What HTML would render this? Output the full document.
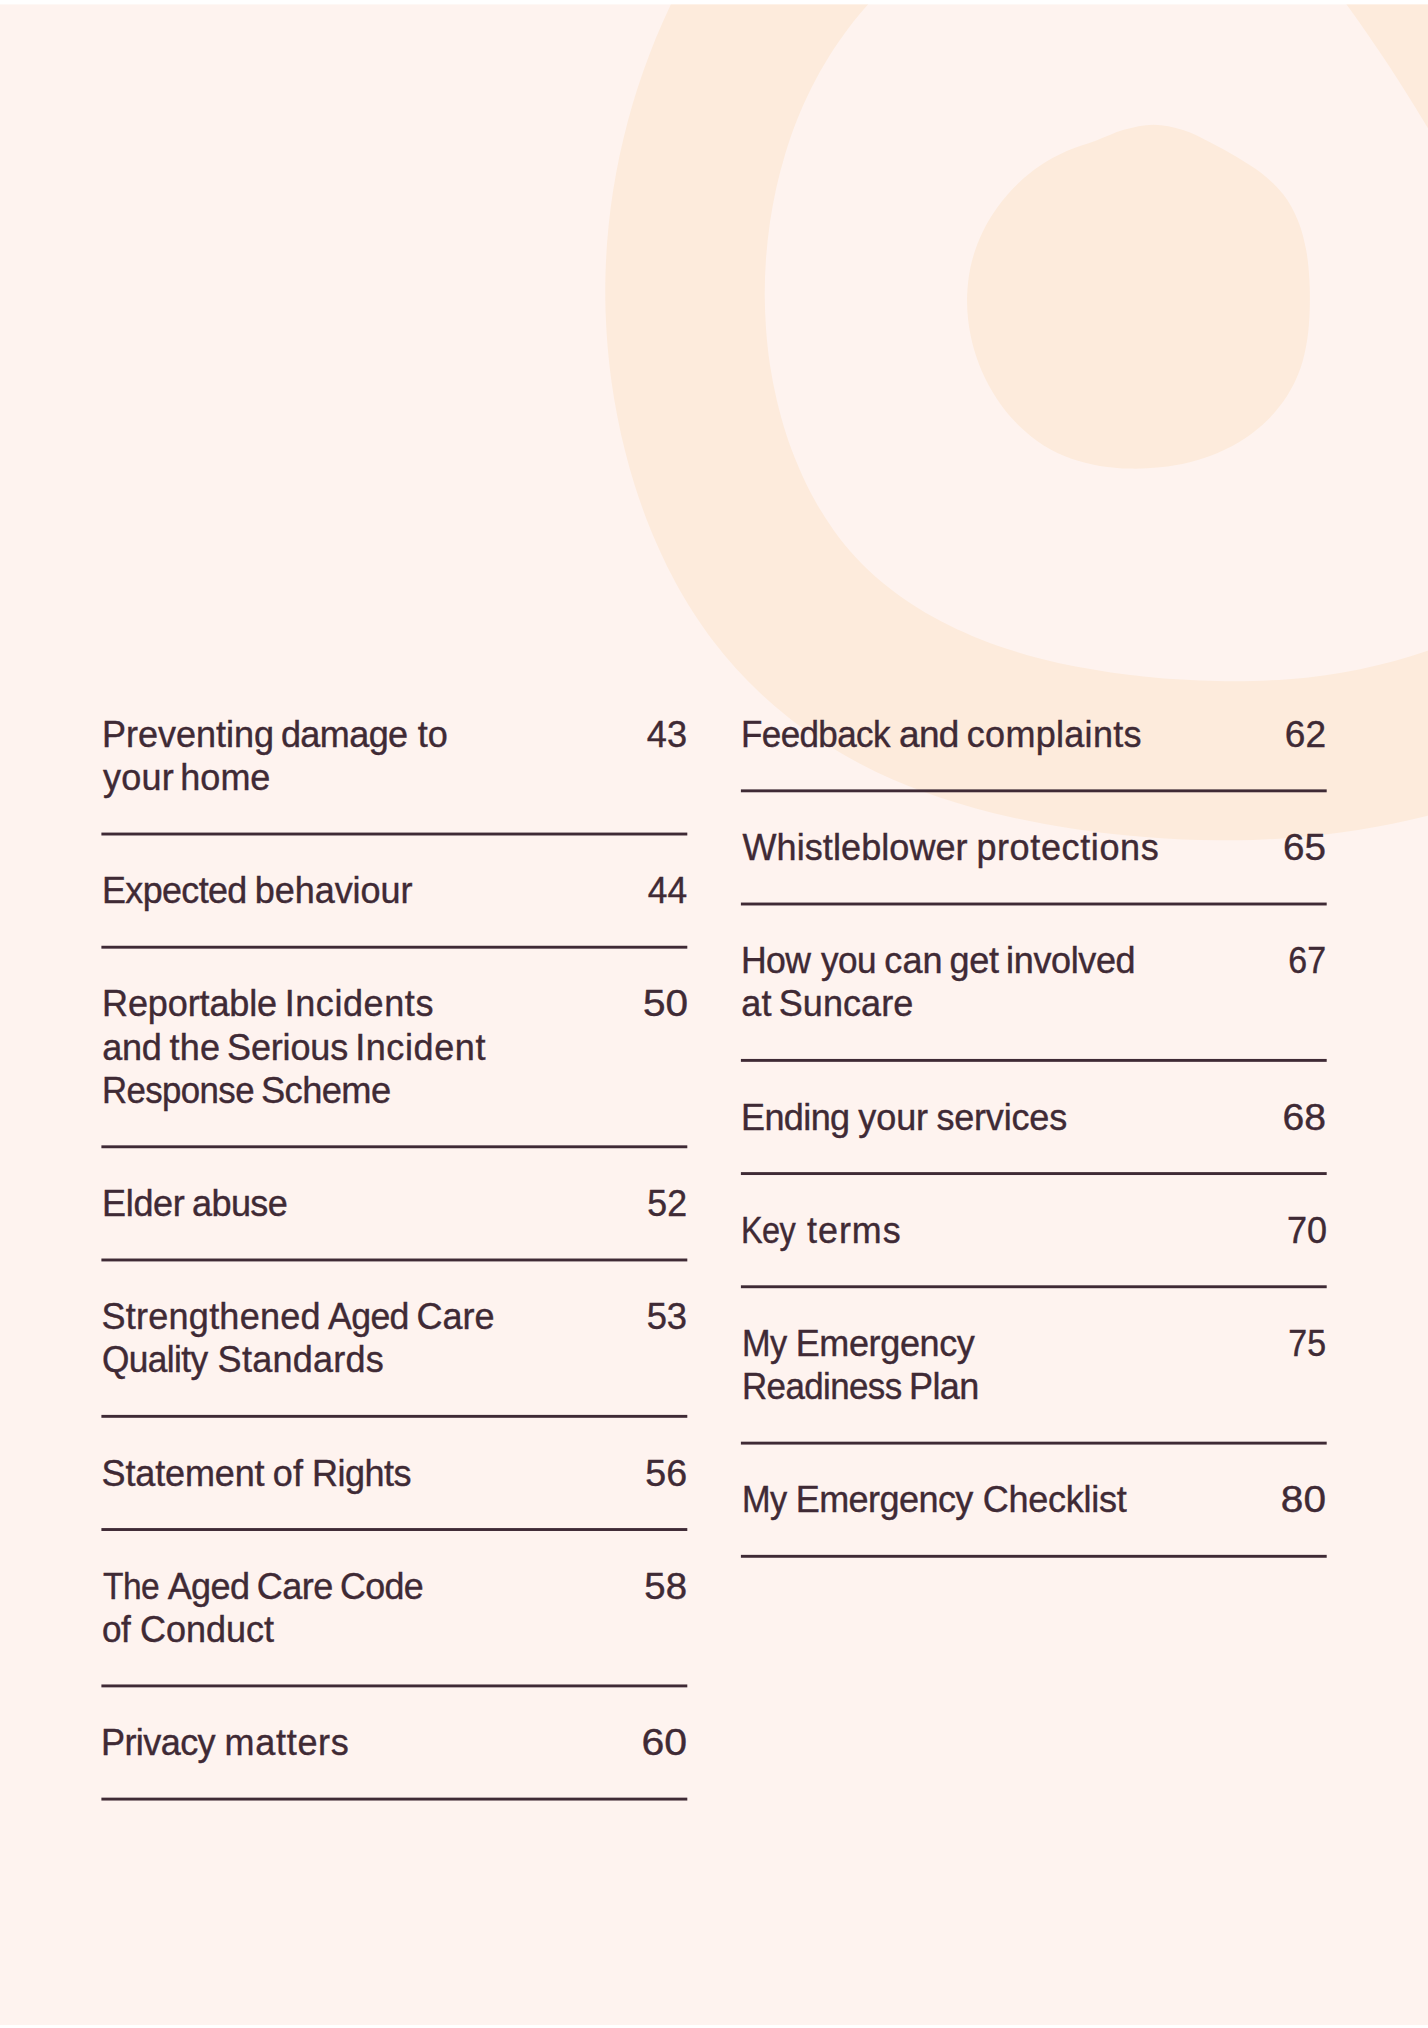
<!DOCTYPE html>
<html lang="en">
<head>
<meta charset="utf-8">
<title>Contents</title>
<style>
html,body{margin:0;padding:0;background:#fff;}
body{width:1428px;height:2028px;position:relative;overflow:hidden;font-family:"Liberation Sans",Arial,sans-serif;color:#3f2a35;}
.page{position:absolute;left:0;top:0;width:1428px;height:2028px;overflow:hidden;}
.page svg{position:absolute;left:0;top:0;width:1428px;height:2028px;display:block;}
.col{position:absolute;width:585px;top:712.83px;}
.col.l{left:101.5px;}
.col.r{left:740.8px;}
.row{position:relative;}
.t{font-size:36px;line-height:43.2px;white-space:nowrap;-webkit-text-stroke:0.4px #3f2a35;}
.ln{display:block;position:relative;height:43.2px;}
.w{position:absolute;top:0;white-space:pre;transform-origin:0 50%;}
.n{position:absolute;top:0;transform-origin:100% 50%;font-size:36px;line-height:43.2px;text-align:right;-webkit-text-stroke:0.4px #3f2a35;}
</style>
</head>
<body>
<div class="page">
<svg viewBox="0 0 1428 2028" width="1428" height="2028" aria-hidden="true">
<defs><clipPath id="pg"><rect x="0" y="4.4" width="1428" height="2020.6"/></clipPath></defs>
<rect x="0" y="4.4" width="1428" height="2020.6" fill="#fef3ef"/>
<g clip-path="url(#pg)" fill="#fdebdc">
<path d="M685.8 -25.2C683.1 -19.9 675.0 -4.4 670.0 6.2C665.0 16.8 660.3 27.5 655.8 38.3C651.4 49.2 647.2 60.1 643.3 71.2C639.4 82.2 635.8 93.3 632.5 104.6C629.2 115.8 626.2 127.1 623.5 138.5C620.7 149.9 618.3 161.3 616.2 172.8C614.1 184.3 612.2 195.9 610.7 207.5C609.2 219.1 608.0 230.8 607.1 242.5C606.3 254.1 605.7 265.8 605.4 277.5C605.2 289.2 605.2 301.0 605.6 312.6C606.0 324.3 606.7 336.0 607.7 347.7C608.7 359.4 610.0 371.0 611.6 382.6C613.2 394.2 615.2 405.7 617.5 417.2C619.7 428.7 622.3 440.1 625.2 451.5C628.0 462.8 631.2 474.1 634.7 485.3C638.3 496.4 642.1 507.5 646.2 518.4C650.4 529.4 654.9 540.2 659.8 550.8C664.6 561.5 669.8 572.0 675.4 582.3C681.0 592.6 686.9 602.7 693.3 612.5C699.6 622.3 706.3 632.0 713.4 641.3C720.5 650.6 728.0 659.6 735.8 668.3C743.7 677.0 751.9 685.3 760.4 693.3C769.0 701.3 777.8 709.0 787.0 716.3C796.1 723.6 805.6 730.5 815.3 737.1C824.9 743.7 834.9 749.8 845.1 755.6C855.2 761.4 865.7 766.8 876.2 771.9C886.8 776.9 897.5 781.6 908.4 785.9C919.2 790.3 930.3 794.3 941.4 798.0C952.5 801.7 963.7 805.1 975.0 808.2C986.2 811.3 997.6 814.1 1009.0 816.7C1020.4 819.3 1031.9 821.6 1043.4 823.7C1055.0 825.8 1066.5 827.7 1078.1 829.4C1089.7 831.1 1101.3 832.6 1112.9 833.9C1124.6 835.2 1136.2 836.3 1147.9 837.3C1159.5 838.2 1171.2 838.9 1182.9 839.4C1194.6 839.9 1206.3 840.2 1218.0 840.3C1229.7 840.4 1241.5 840.3 1253.2 839.9C1264.8 839.5 1276.5 838.9 1288.2 838.0C1299.9 837.2 1311.6 836.1 1323.2 834.8C1334.8 833.4 1346.4 831.8 1358.0 830.0C1369.5 828.1 1381.1 826.0 1392.5 823.7C1404.0 821.3 1415.4 818.7 1426.8 815.9C1438.1 813.0 1455.0 808.1 1460.6 806.5L1460.8 637.7C1455.3 639.9 1438.8 646.8 1427.6 650.7C1416.4 654.6 1405.1 658.1 1393.6 661.3C1382.2 664.4 1370.6 667.1 1359.0 669.4C1347.3 671.8 1335.6 673.7 1323.8 675.4C1312.1 677.0 1300.3 678.2 1288.4 679.2C1276.6 680.1 1264.7 680.7 1252.9 681.0C1241.0 681.4 1229.1 681.4 1217.2 681.1C1205.4 680.9 1193.5 680.4 1181.6 679.6C1169.8 678.9 1158.0 677.9 1146.1 676.7C1134.3 675.5 1122.5 674.1 1110.8 672.4C1099.0 670.8 1087.3 668.8 1075.6 666.6C1064.0 664.3 1052.4 661.7 1040.9 658.8C1029.4 655.8 1018.0 652.5 1006.7 648.8C995.4 645.1 984.3 641.0 973.3 636.4C962.4 631.8 951.6 626.8 941.1 621.3C930.6 615.8 920.2 609.8 910.4 603.3C900.5 596.7 890.8 589.7 881.7 582.1C872.7 574.5 864.0 566.3 855.9 557.6C847.9 548.9 840.4 539.6 833.5 529.9C826.6 520.3 820.3 510.2 814.5 499.8C808.7 489.4 803.6 478.7 798.9 467.8C794.2 456.9 790.0 445.7 786.3 434.5C782.7 423.2 779.5 411.7 776.8 400.2C774.1 388.6 771.8 376.9 770.0 365.2C768.3 353.5 766.9 341.6 766.1 329.8C765.2 318.0 764.8 306.1 764.7 294.2C764.7 282.4 765.2 270.5 766.0 258.6C766.9 246.8 768.1 235.0 769.8 223.2C771.5 211.5 773.7 199.8 776.2 188.2C778.8 176.6 781.8 165.1 785.3 153.7C788.7 142.4 792.6 131.1 797.0 120.1C801.4 109.1 806.3 98.2 811.6 87.6C816.9 77.0 822.7 66.6 829.0 56.5C835.2 46.5 842.0 36.6 849.2 27.2C856.3 17.8 864.0 8.6 872.1 -0.1C880.1 -8.7 893.3 -20.8 897.6 -24.9Z"/>
<path d="M1324.6 -24.7C1327.4 -20.9 1336.1 -9.7 1341.8 -2.0C1347.4 5.6 1353.0 13.3 1358.4 21.0C1363.9 28.7 1369.3 36.6 1374.6 44.4C1380.0 52.2 1385.2 60.2 1390.4 68.1C1395.6 76.0 1400.7 84.0 1405.7 92.1C1410.8 100.1 1415.7 108.2 1420.7 116.2C1425.6 124.3 1430.5 132.5 1435.4 140.6C1440.2 148.8 1447.4 161.1 1449.8 165.2L1460 -25Z"/>
<path d="M1153.5 124.7C1163.3 124.7 1173.5 127.0 1183.0 130.0C1192.5 132.9 1201.4 137.9 1210.4 142.4C1219.4 146.9 1228.2 151.8 1236.8 157.0C1245.3 162.2 1254.1 167.3 1261.9 173.6C1269.7 179.8 1277.4 186.7 1283.4 194.6C1289.4 202.4 1294.2 211.6 1298.0 220.8C1301.8 230.0 1304.2 240.0 1306.1 249.8C1308.0 259.6 1308.8 269.7 1309.4 279.7C1310.0 289.7 1310.0 299.8 1309.7 309.8C1309.3 319.8 1308.8 330.0 1307.2 339.8C1305.6 349.7 1303.6 359.7 1300.2 369.1C1296.8 378.5 1292.3 387.7 1287.0 396.1C1281.6 404.5 1275.1 412.4 1268.1 419.5C1261.0 426.5 1253.1 433.0 1244.8 438.5C1236.5 444.0 1227.4 448.8 1218.2 452.7C1209.1 456.6 1199.4 459.7 1189.7 462.2C1180.0 464.6 1170.0 466.3 1160.0 467.3C1150.1 468.4 1139.9 468.8 1129.9 468.6C1119.9 468.3 1109.8 467.6 1099.9 465.9C1090.1 464.2 1080.2 461.9 1070.8 458.5C1061.4 455.0 1052.2 450.7 1043.7 445.4C1035.3 440.1 1027.3 433.7 1020.1 426.8C1012.8 419.9 1006.2 412.1 1000.4 404.0C994.6 395.9 989.4 387.1 985.0 378.1C980.7 369.1 977.0 359.6 974.2 350.1C971.4 340.5 969.4 330.5 968.2 320.6C967.1 310.6 966.7 300.4 967.4 290.5C968.0 280.5 969.5 270.4 972.0 260.8C974.5 251.1 978.1 241.5 982.4 232.5C986.7 223.5 991.9 214.8 997.8 206.7C1003.7 198.6 1010.4 190.9 1017.6 184.0C1024.7 177.1 1032.7 170.6 1041.0 165.1C1049.3 159.6 1058.3 154.8 1067.4 150.8C1076.6 146.7 1086.4 144.2 1095.8 140.7C1105.2 137.2 1114.3 132.5 1123.9 129.8C1133.5 127.1 1143.6 124.7 1153.5 124.7Z"/>
</g>
<g fill="#3f2a35">
<rect x="101.4" y="832.58" width="585.9" height="2.9"/>
<rect x="101.4" y="945.76" width="585.9" height="2.9"/>
<rect x="101.4" y="1145.34" width="585.9" height="2.9"/>
<rect x="101.4" y="1258.52" width="585.9" height="2.9"/>
<rect x="101.4" y="1414.90" width="585.9" height="2.9"/>
<rect x="101.4" y="1528.08" width="585.9" height="2.9"/>
<rect x="101.4" y="1684.46" width="585.9" height="2.9"/>
<rect x="101.4" y="1797.64" width="585.9" height="2.9"/>
<rect x="740.9" y="789.38" width="585.8" height="2.9"/>
<rect x="740.9" y="902.56" width="585.8" height="2.9"/>
<rect x="740.9" y="1058.94" width="585.8" height="2.9"/>
<rect x="740.9" y="1172.12" width="585.8" height="2.9"/>
<rect x="740.9" y="1285.30" width="585.8" height="2.9"/>
<rect x="740.9" y="1441.68" width="585.8" height="2.9"/>
<rect x="740.9" y="1554.86" width="585.8" height="2.9"/>
</g>
</svg>
<div class="col l">
<div class="row" style="height:156.38px"><div class="t"><span class="ln"><span class="w" style="left:0.57px;letter-spacing:-0.030px">Preventing </span><span class="w" style="left:179.39px;letter-spacing:-0.568px">damage </span><span class="w" style="left:316.35px;letter-spacing:-0.046px">to</span></span><span class="ln"><span class="w" style="left:1.47px;letter-spacing:0.283px">your </span><span class="w" style="left:78.86px;letter-spacing:-0.007px">home</span></span></div><div class="n" style="transform:scaleX(1.0040);right:-0.74px">43</div></div>
<div class="row" style="height:113.18px"><div class="t"><span class="ln"><span class="w" style="left:0.22px;letter-spacing:-0.600px;transform:scaleX(0.9960)">Expected </span><span class="w" style="left:153.19px;letter-spacing:-0.030px">behaviour</span></span></div><div class="n" style="transform:scaleX(0.9814);right:-0.11px">44</div></div>
<div class="row" style="height:199.58px"><div class="t"><span class="ln"><span class="w" style="left:0.57px;letter-spacing:-0.119px">Reportable </span><span class="w" style="left:183.13px;letter-spacing:0.587px">Incidents</span></span><span class="ln"><span class="w" style="left:0.65px;letter-spacing:-0.241px">and </span><span class="w" style="left:67.93px;letter-spacing:0.243px">the </span><span class="w" style="left:125.57px;letter-spacing:-0.166px">Serious </span><span class="w" style="left:253.66px;letter-spacing:0.593px">Incident</span></span><span class="ln"><span class="w" style="left:0.73px;letter-spacing:-0.600px;transform:scaleX(0.9658)">Response </span><span class="w" style="left:159.85px;letter-spacing:-0.600px;transform:scaleX(1.0081)">Scheme</span></span></div><div class="n" style="transform:scaleX(1.1274);right:-1.11px">50</div></div>
<div class="row" style="height:113.18px"><div class="t"><span class="ln"><span class="w" style="left:0.57px;letter-spacing:-0.335px">Elder </span><span class="w" style="left:90.63px;letter-spacing:-0.600px;transform:scaleX(1.0011)">abuse</span></span></div><div class="n" style="transform:scaleX(0.9916);right:-0.86px">52</div></div>
<div class="row" style="height:156.38px"><div class="t"><span class="ln"><span class="w" style="left:0.12px;letter-spacing:0.242px">Strengthened </span><span class="w" style="left:226.92px;letter-spacing:-0.600px;transform:scaleX(0.9894)">Aged </span><span class="w" style="left:314.95px;letter-spacing:-0.016px">Care</span></span><span class="ln"><span class="w" style="left:0.11px;letter-spacing:-0.600px;transform:scaleX(0.9790)">Quality </span><span class="w" style="left:116.12px;letter-spacing:0.269px">Standards</span></span></div><div class="n" style="transform:scaleX(1.0093);right:-0.91px">53</div></div>
<div class="row" style="height:113.18px"><div class="t"><span class="ln"><span class="w" style="left:0.12px;letter-spacing:-0.150px">Statement </span><span class="w" style="left:171.31px;letter-spacing:0.070px">of </span><span class="w" style="left:210.48px;letter-spacing:-0.496px">Rights</span></span></div><div class="n" style="transform:scaleX(1.0437);right:-1.01px">56</div></div>
<div class="row" style="height:156.38px"><div class="t"><span class="ln"><span class="w" style="left:1.45px;letter-spacing:-0.600px;transform:scaleX(0.9306)">The </span><span class="w" style="left:66.16px;letter-spacing:-0.575px">Aged </span><span class="w" style="left:155.28px;letter-spacing:-0.513px">Care </span><span class="w" style="left:238.48px;letter-spacing:-0.600px;transform:scaleX(0.9938)">Code</span></span><span class="ln"><span class="w" style="left:0.81px;letter-spacing:-0.600px;transform:scaleX(0.9747)">of </span><span class="w" style="left:38.45px;letter-spacing:-0.023px">Conduct</span></span></div><div class="n" style="transform:scaleX(1.0657);right:-0.74px">58</div></div>
<div class="row" style="height:113.18px"><div class="t"><span class="ln"><span class="w" style="left:-0.06px;letter-spacing:-0.600px;transform:scaleX(1.0021)">Privacy </span><span class="w" style="left:123.10px;letter-spacing:0.698px">matters</span></span></div><div class="n" style="transform:scaleX(1.1387);right:-1.03px">60</div></div>
</div>
<div class="col r">
<div class="row" style="height:113.18px"><div class="t"><span class="ln"><span class="w" style="left:0.49px;letter-spacing:-0.600px;transform:scaleX(0.9713)">Feedback </span><span class="w" style="left:158.28px;letter-spacing:-0.600px;transform:scaleX(1.0262)">and </span><span class="w" style="left:226.03px;letter-spacing:0.292px">complaints</span></span></div><div class="n" style="transform:scaleX(1.0289);right:-0.45px">62</div></div>
<div class="row" style="height:113.18px"><div class="t"><span class="ln"><span class="w" style="left:1.76px;letter-spacing:0.080px">Whistleblower </span><span class="w" style="left:235.59px;letter-spacing:0.620px">protections</span></span></div><div class="n" style="transform:scaleX(1.0721);right:-0.23px">65</div></div>
<div class="row" style="height:156.38px"><div class="t"><span class="ln"><span class="w" style="left:0.37px;letter-spacing:-0.600px;transform:scaleX(0.9879)">How </span><span class="w" style="left:80.59px;letter-spacing:-0.600px;transform:scaleX(0.9757)">you </span><span class="w" style="left:143.46px;letter-spacing:0.140px">can </span><span class="w" style="left:208.71px;letter-spacing:-0.333px">get </span><span class="w" style="left:265.30px;letter-spacing:-0.365px">involved</span></span><span class="ln"><span class="w" style="left:0.34px;letter-spacing:0.393px">at </span><span class="w" style="left:38.01px;letter-spacing:0.061px">Suncare</span></span></div><div class="n" style="transform:scaleX(0.9419);right:-0.74px">67</div></div>
<div class="row" style="height:113.18px"><div class="t"><span class="ln"><span class="w" style="left:0.23px;letter-spacing:-0.600px;transform:scaleX(1.0004)">Ending </span><span class="w" style="left:117.51px;letter-spacing:-0.095px">your </span><span class="w" style="left:195.58px;letter-spacing:-0.176px">services</span></span></div><div class="n" style="transform:scaleX(1.0863);right:-0.54px">68</div></div>
<div class="row" style="height:113.18px"><div class="t"><span class="ln"><span class="w" style="left:0.57px;letter-spacing:-0.600px;transform:scaleX(0.9011)">Key </span><span class="w" style="left:66.11px;letter-spacing:1.000px;transform:scaleX(0.9962)">terms</span></span></div><div class="n" style="transform:scaleX(1.0013);right:-0.87px">70</div></div>
<div class="row" style="height:156.38px"><div class="t"><span class="ln"><span class="w" style="left:1.07px;letter-spacing:-0.600px;transform:scaleX(0.9534)">My </span><span class="w" style="left:54.88px;letter-spacing:-0.363px">Emergency</span></span><span class="ln"><span class="w" style="left:0.74px;letter-spacing:-0.600px;transform:scaleX(0.9688)">Readiness </span><span class="w" style="left:168.23px;letter-spacing:-0.600px;transform:scaleX(0.9996)">Plan</span></span></div><div class="n" style="transform:scaleX(0.9419);right:-0.42px">75</div></div>
<div class="row" style="height:113.18px"><div class="t"><span class="ln"><span class="w" style="left:1.07px;letter-spacing:-0.600px;transform:scaleX(0.9534)">My </span><span class="w" style="left:54.88px;letter-spacing:-0.553px">Emergency </span><span class="w" style="left:241.98px;letter-spacing:-0.255px">Checklist</span></span></div><div class="n" style="transform:scaleX(1.1283);right:-0.63px">80</div></div>
</div>
</div>
</body>
</html>
